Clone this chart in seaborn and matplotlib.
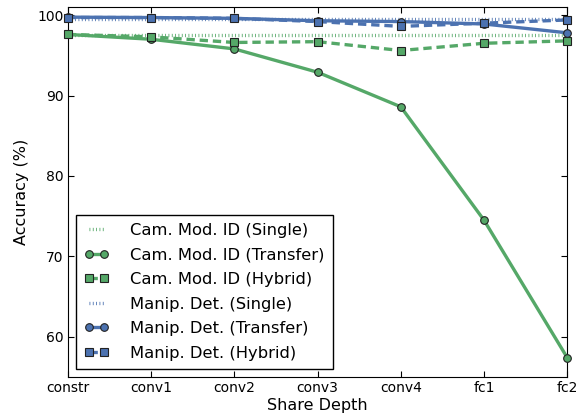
import numpy as np
import pandas as pd
import matplotlib
matplotlib.use("Agg")
import matplotlib.pyplot as plt
import seaborn as sns

depths = ['constr', 'conv1', 'conv2', 'conv3', 'conv4', 'fc1', 'fc2']

cam_single = [97.5, 97.5, 97.5, 97.5, 97.5, 97.5, 97.5]
cam_transfer = [97.6, 97.0, 95.8, 92.9, 88.6, 74.5, 57.4]
cam_hybrid = [97.6, 97.3, 96.6, 96.7, 95.6, 96.5, 96.8]
manip_single = [99.5, 99.5, 99.5, 99.5, 99.5, 99.5, 99.5]
manip_transfer = [99.75, 99.7, 99.6, 99.3, 99.2, 98.9, 97.8]
manip_hybrid = [99.7, 99.7, 99.6, 99.2, 98.6, 99.0, 99.4]

sns.set_style("ticks", {"xtick.direction": "in", "ytick.direction": "in"})
plt.rcParams['font.family'] = ['DejaVu Sans']
plt.rcParams['xtick.top'] = True
plt.rcParams['ytick.right'] = True
plt.rcParams['text.color'] = 'black'
plt.rcParams['axes.labelcolor'] = 'black'
plt.rcParams['xtick.color'] = 'black'
plt.rcParams['ytick.color'] = 'black'
plt.rcParams['lines.scale_dashes'] = False

green = sns.color_palette("deep")[2]
blue = sns.color_palette("deep")[0]

dotted = (0, (0.6, 1.8))
dashed = (0, (6, 3.5))

x = np.arange(len(depths))
fig, ax = plt.subplots(figsize=(5.8, 4.17), dpi=100)
fig.subplots_adjust(left=0.117, right=0.978, top=0.983, bottom=0.096)

series = [
    ('Cam. Mod. ID (Single)', cam_single, green, dotted, None),
    ('Cam. Mod. ID (Transfer)', cam_transfer, green, '-', 'o'),
    ('Cam. Mod. ID (Hybrid)', cam_hybrid, green, dashed, 's'),
    ('Manip. Det. (Single)', manip_single, blue, dotted, None),
    ('Manip. Det. (Transfer)', manip_transfer, blue, '-', 'o'),
    ('Manip. Det. (Hybrid)', manip_hybrid, blue, dashed, 's'),
]
for label, vals, col, ls, mk in series:
    sns.lineplot(x=x, y=vals, ax=ax, color=col, linestyle=ls, marker=mk,
                 markersize=5.5, markeredgecolor='#222222', markeredgewidth=0.8,
                 linewidth=2.4, label=label, clip_on=False, zorder=3)

ax.set_xlim(0, 6)
ax.set_ylim(55, 101)
ax.set_xticks(x)
ax.set_xticklabels(depths)
ax.set_yticks([60, 70, 80, 90, 100])
ax.tick_params(axis='both', labelsize=10, pad=3, length=4, color='black')
ax.set_xlabel('Share Depth', fontsize=11.5, labelpad=2)
ax.set_ylabel('Accuracy (%)', fontsize=11.5, labelpad=6)
for s in ax.spines.values():
    s.set_visible(True)
    s.set_color('black')
ax.legend(loc='lower left', fontsize=11.8, numpoints=2, fancybox=False,
          edgecolor='black', framealpha=1, handlelength=1.5, handletextpad=1.3,
          borderaxespad=0.5, labelspacing=0.58, borderpad=0.5)
fig.savefig('out.png', dpi=100)
